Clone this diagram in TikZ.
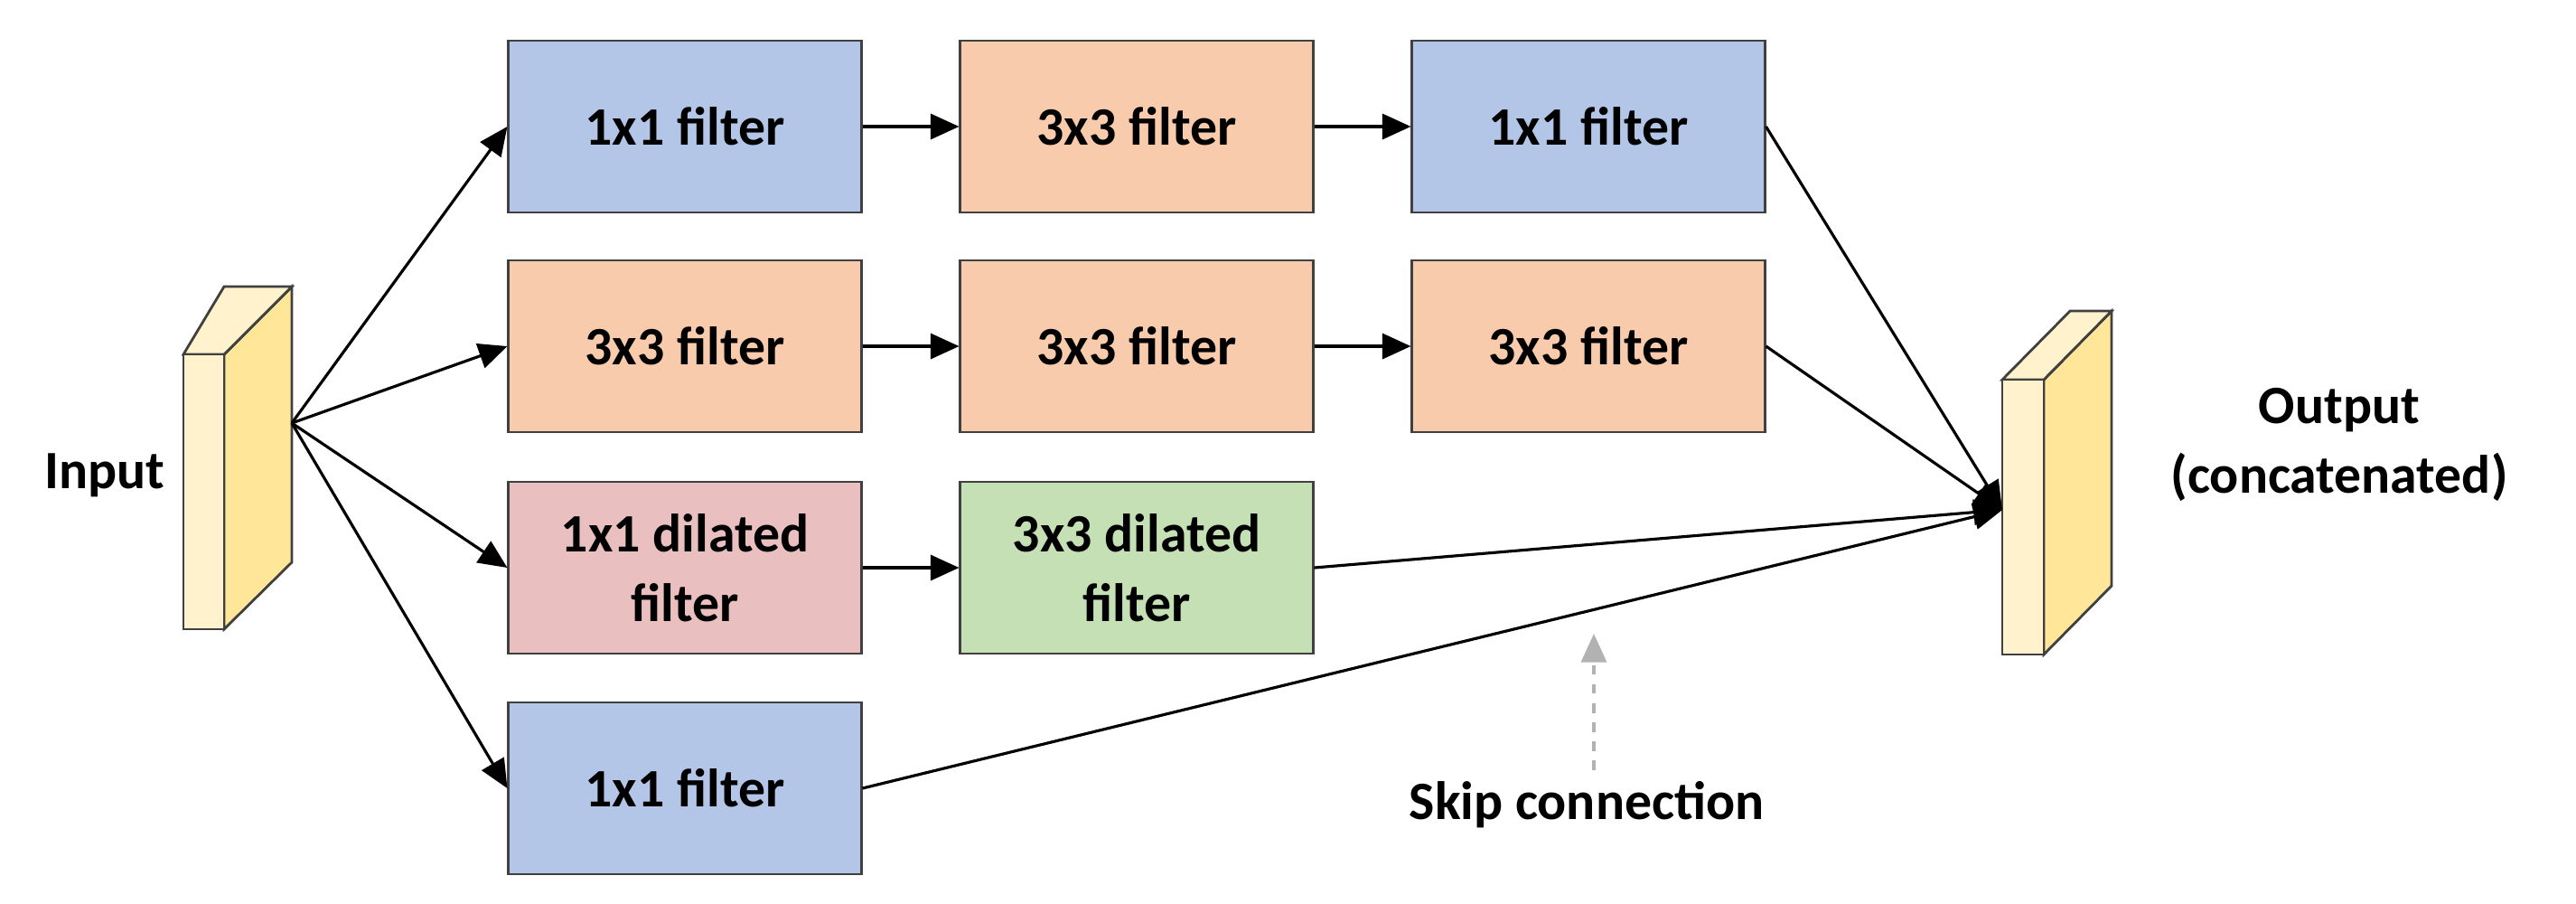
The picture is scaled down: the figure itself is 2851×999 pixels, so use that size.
\documentclass[tikz,border=0pt]{standalone}
\usepackage{fontspec}
\setmainfont{Carlito}
\usetikzlibrary{arrows.meta}

\definecolor{fblue}{HTML}{B4C6E7}
\definecolor{forange}{HTML}{F8CBAD}
\definecolor{fpink}{HTML}{EABFC0}
\definecolor{fgreen}{HTML}{C5E0B4}
\definecolor{slabfront}{HTML}{FFF2CC}
\definecolor{slabside}{HTML}{FFE699}

\tikzset{
    filter/.style={draw=black!75, line width=0.8pt, minimum width=3.9cm, minimum height=1.9cm,
        align=center, font=\fontsize{17}{22}\selectfont\bfseries},
    flow/.style={line width=0.9pt, -{Triangle[length=9pt,width=8pt]}},
    lbl/.style={align=center, font=\fontsize{17}{22}\selectfont\bfseries}
}

\begin{document}
\begin{tikzpicture}[x=0.01cm, y=-0.01cm]

        \useasboundingbox (0,0) rectangle (2851,999);

        % input slab
        \draw[black!75, line width=0.8pt, fill=slabside]
            (248,392) -- (323,317) -- (323,622) -- (248,696) -- cycle;
        \draw[black!75, line width=0.8pt, fill=slabfront]
            (203,392) -- (248,317) -- (323,317) -- (248,392) -- cycle;
        \draw[black!75, line width=0.8pt, fill=slabfront]
            (203,392) rectangle (248,696);
        \coordinate (in) at (323,468);
        \node[lbl] (inlabel) at (116,526) {Input};

        % output slab
        \draw[black!75, line width=0.8pt, fill=slabside]
            (2262,420) -- (2337,344) -- (2337,648) -- (2262,724) -- cycle;
        \draw[black!75, line width=0.8pt, fill=slabfront]
            (2216,420) -- (2291,344) -- (2337,344) -- (2262,420) -- cycle;
        \draw[black!75, line width=0.8pt, fill=slabfront]
            (2216,420) rectangle (2262,724);
        \coordinate (out) at (2216,564);
        \node[lbl] (outlabel) at (2589,492) {Output\\(concatenated)};

        % filters
        \node[filter, fill=fblue]   (a1) at (758,140)  {1x1 filter};
        \node[filter, fill=forange] (a2) at (1258,140) {3x3 filter};
        \node[filter, fill=fblue]   (a3) at (1758,140) {1x1 filter};

        \node[filter, fill=forange] (b1) at (758,383)  {3x3 filter};
        \node[filter, fill=forange] (b2) at (1258,383) {3x3 filter};
        \node[filter, fill=forange] (b3) at (1758,383) {3x3 filter};

        \node[filter, fill=fpink]   (c1) at (758,628)  {1x1 dilated\\filter};
        \node[filter, fill=fgreen]  (c2) at (1258,628) {3x3 dilated\\filter};

        \node[filter, fill=fblue]   (d1) at (758,872)  {1x1 filter};

        % connections
        \draw[flow] (in) -- (a1.west);
        \draw[flow] (in) -- (b1.west);
        \draw[flow] (in) -- (c1.west);
        \draw[flow] (in) -- (d1.west);

        \draw[flow] (a1) -- (a2);
        \draw[flow] (a2) -- (a3);
        \draw[flow] (b1) -- (b2);
        \draw[flow] (b2) -- (b3);
        \draw[flow] (c1) -- (c2);

        \draw[flow] (a3.east) -- (out);
        \draw[flow] (b3.east) -- (out);
        \draw[flow] (c2.east) -- (out);
        \draw[flow] (d1.east) -- (out);

        % skip label
        \node[lbl] (skip) at (1756,890) {Skip connection};
        \coordinate (skiptip) at (1764,701);
        \draw[black!30, line width=0.9pt, dashed, -{Triangle[length=9pt,width=8pt]}]
            (skip.north -| skiptip) -- (skiptip);

\end{tikzpicture}
\end{document}
